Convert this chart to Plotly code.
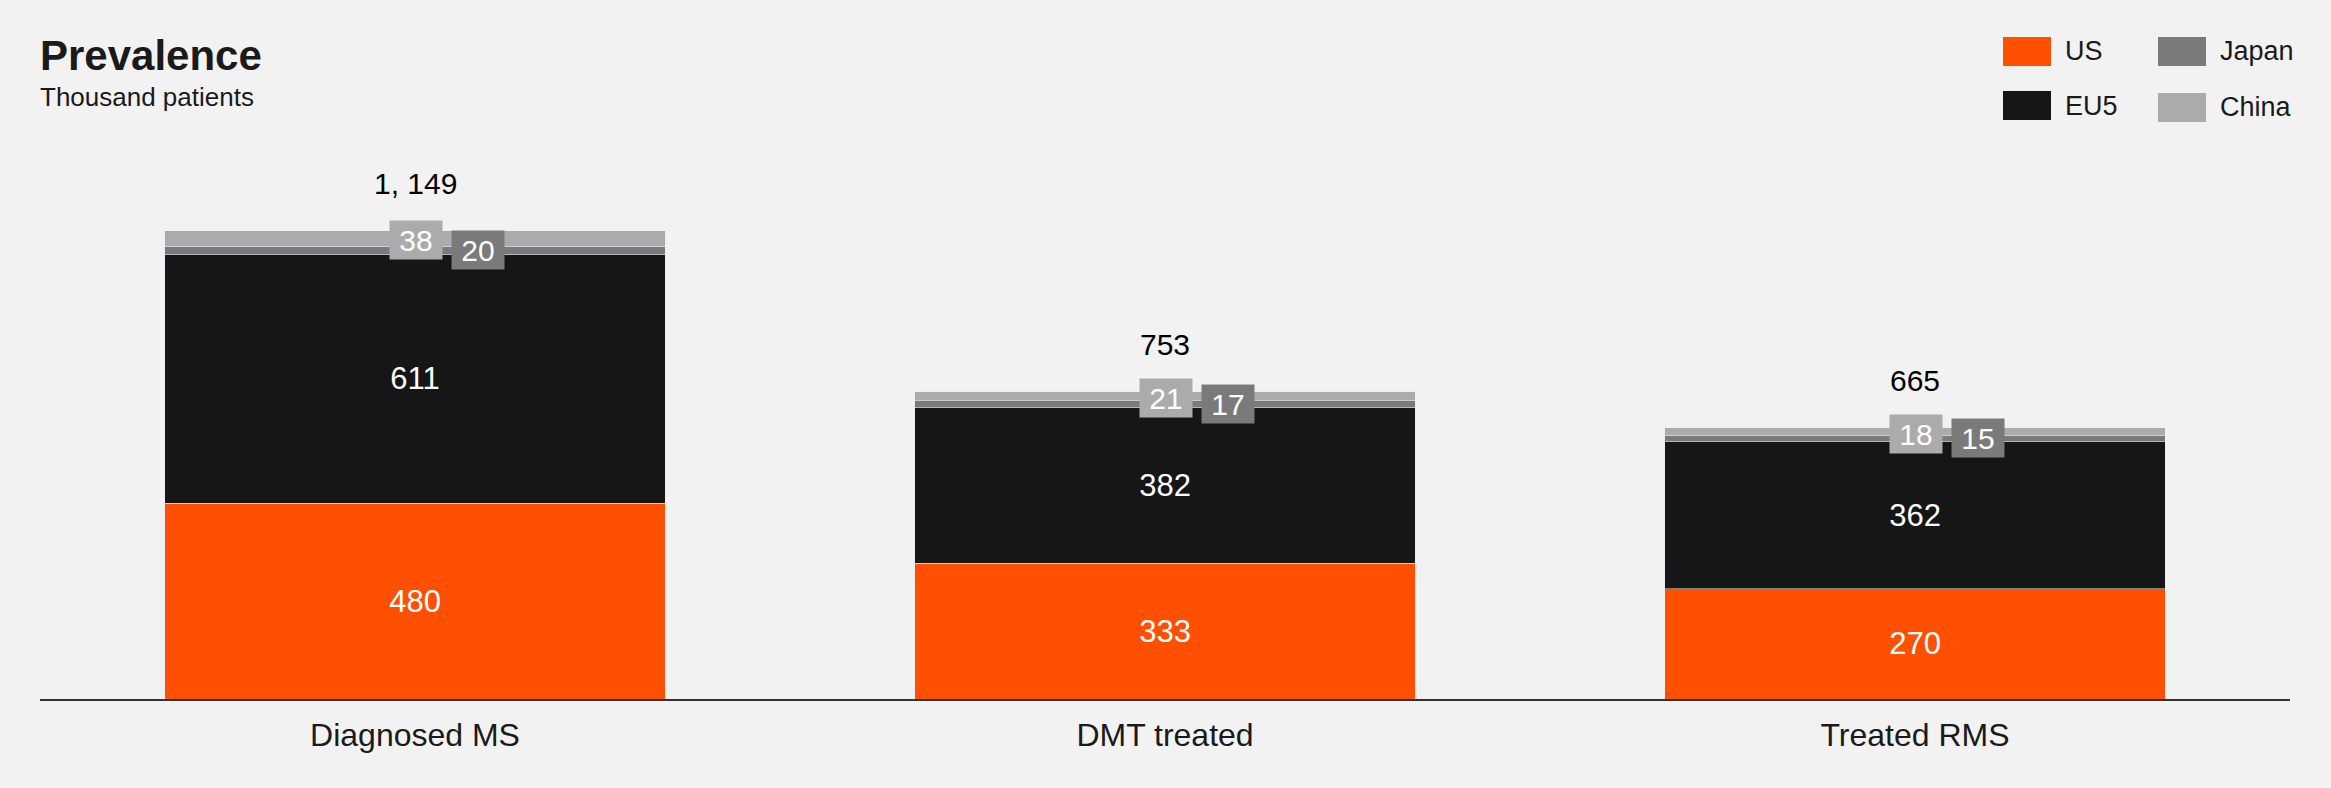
import plotly.graph_objects as go

categories = ["Diagnosed MS", "DMT treated", "Treated RMS"]
us = [480, 333, 270]
eu5 = [611, 382, 362]
japan = [20, 17, 15]
china = [38, 21, 18]

COL_US = "#FF4F00"
COL_EU = "#161616"
COL_JP = "#7A7A7A"
COL_CN = "#ABABAB"
BG = "#F2F2F2"

W, H = 2331, 788
ML, MR, MT, MB = 40, 41, 140, 89
FONT = "Liberation Sans, Arial, sans-serif"


def xp(px):
    return (px - ML) / (W - ML - MR)


def yp(py):
    return (H - MB - py) / (H - MT - MB)


fig = go.Figure()
fig.add_trace(go.Bar(x=categories, y=us, name="US", marker_color=COL_US,
                     text=[str(v) for v in us], textposition="inside",
                     insidetextanchor="middle", textangle=0,
                     textfont=dict(color="white", size=31, family=FONT)))
fig.add_trace(go.Bar(x=categories, y=eu5, name="EU5", marker_color=COL_EU,
                     text=[str(v) for v in eu5], textposition="inside",
                     insidetextanchor="middle", textangle=0,
                     textfont=dict(color="white", size=31, family=FONT)))
fig.add_trace(go.Bar(x=categories, y=japan, name="Japan", marker_color=COL_JP))
fig.add_trace(go.Bar(x=categories, y=china, name="China", marker_color=COL_CN))

annotations = []
for i, cat in enumerate(categories):
    base_jp = us[i] + eu5[i]
    base_cn = base_jp + japan[i]
    total = base_cn + china[i]
    # China box label
    annotations.append(dict(x=cat, y=base_cn + china[i] / 2, xref="x", yref="y",
                            text=str(china[i]), showarrow=False,
                            bgcolor=COL_CN, width=52, height=38, borderpad=0,
                            font=dict(color="white", size=30, family=FONT),
                            xanchor="center", yanchor="middle", xshift=1, yshift=-2))
    # Japan box label
    annotations.append(dict(x=cat, y=base_jp + japan[i] / 2, xref="x", yref="y",
                            text=str(japan[i]), showarrow=False,
                            bgcolor=COL_JP, width=52, height=38, borderpad=0,
                            font=dict(color="white", size=30, family=FONT),
                            xanchor="center", yanchor="middle", xshift=63))
    # Total label
    annotations.append(dict(x=cat, y=total, xref="x", yref="y",
                            text=f"{total:,}".replace(",", ", "), showarrow=False,
                            font=dict(color="#000000", size=30, family=FONT),
                            xanchor="center", yanchor="middle", yshift=47))

# Title and subtitle
annotations.append(dict(x=xp(38), y=yp(55), xref="paper", yref="paper",
                        text="<b>Prevalence</b>", showarrow=False,
                        font=dict(color="#1A1A1A", size=42, family=FONT),
                        xanchor="left", yanchor="middle"))
annotations.append(dict(x=xp(38), y=yp(97), xref="paper", yref="paper",
                        text="Thousand patients", showarrow=False,
                        font=dict(color="#1A1A1A", size=26, family=FONT),
                        xanchor="left", yanchor="middle"))

# Custom legend
legend_items = [("US", COL_US, 2003, 37), ("EU5", COL_EU, 2003, 91),
                ("Japan", COL_JP, 2158, 37), ("China", COL_CN, 2158, 93)]
shapes = []
for name, col, lx, ly in legend_items:
    shapes.append(dict(type="rect", xref="paper", yref="paper",
                       x0=xp(lx), x1=xp(lx + 48), y0=yp(ly + 29), y1=yp(ly),
                       fillcolor=col, line=dict(width=0)))
    annotations.append(dict(x=xp(lx + 60), y=yp(ly + 14.5), xref="paper", yref="paper",
                            text=name, showarrow=False,
                            font=dict(color="#1A1A1A", size=27, family=FONT),
                            xanchor="left", yanchor="middle"))

fig.update_layout(
    width=W, height=H,
    barmode="stack", bargap=0.333,
    paper_bgcolor=BG, plot_bgcolor=BG,
    margin=dict(l=ML, r=MR, t=MT, b=MB, pad=0),
    showlegend=False,
    annotations=annotations, shapes=shapes,
    font=dict(family=FONT, color="#1A1A1A"),
    xaxis=dict(showline=True, linecolor="#333333", linewidth=2, ticks="",
               showgrid=False, zeroline=False, ticklabelstandoff=7,
               tickfont=dict(size=32, color="#1A1A1A", family=FONT)),
    yaxis=dict(visible=False, range=[0, 1371], showgrid=False, zeroline=False),
)

fig.write_html("out.html", config={"displayModeBar": False},
               post_script="document.body.style.margin='0';document.body.style.overflow='hidden';")
